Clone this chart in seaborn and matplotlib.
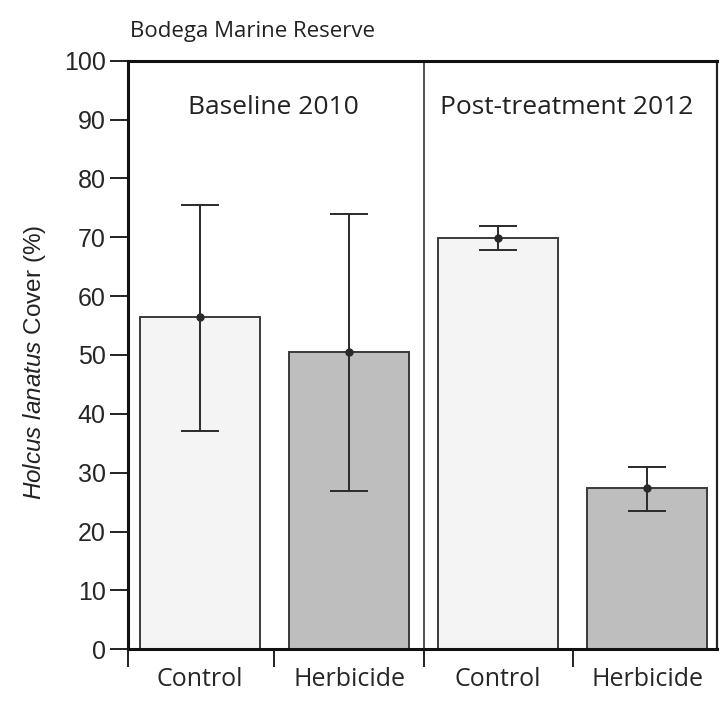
import matplotlib
matplotlib.use("Agg")
import matplotlib.pyplot as plt
import seaborn as sns
import pandas as pd

# ---------------------------------------------------------------------------
# DATA
# ---------------------------------------------------------------------------
groups = ["2010 Control", "2010 Herbicide", "2012 Control", "2012 Herbicide"]
tick_labels = ["Control", "Herbicide", "Control", "Herbicide"]
treatments = ["Control", "Herbicide", "Control", "Herbicide"]
cover_mean = [56.5, 50.5, 69.9, 27.4]
err_low = [37.1, 26.9, 67.8, 23.5]
err_high = [75.5, 74.0, 71.9, 31.0]
period_labels = ["Baseline 2010", "Post-treatment 2012"]

df = pd.DataFrame({"group": groups, "treatment": treatments, "cover": cover_mean})

sns.set_theme(style="white")
plt.rcParams["font.family"] = ["Liberation Sans", "DejaVu Sans"]
plt.rcParams["mathtext.fontset"] = "custom"
plt.rcParams["mathtext.it"] = "Liberation Sans:italic"
plt.rcParams["mathtext.rm"] = "Liberation Sans"

fig = plt.figure(figsize=(7.2, 7.01), dpi=100)
ax = fig.add_axes([0.1774, 0.0738, 0.8185, 0.8396])

sns.barplot(data=df, x="group", y="cover", hue="treatment",
            palette={"Control": "#f4f4f4", "Herbicide": "#bebebe"},
            dodge=False, width=0.8, edgecolor="#3a3a3a", linewidth=1.4,
            errorbar=None, legend=False, ax=ax)

# error bars with mean dot
xs = list(range(len(groups)))
lower = [m - lo for m, lo in zip(cover_mean, err_low)]
upper = [hi - m for m, hi in zip(cover_mean, err_high)]
ax.errorbar(xs, cover_mean, yerr=[lower, upper], fmt="o", color="#2a2a2a",
            markersize=5, elinewidth=1.4, capsize=13.7, capthick=1.4, zorder=5)

# divider between periods
ax.axvline(1.5, color="#333333", lw=1.2, zorder=1)

ax.set_xlim(-0.485, 3.47)
ax.set_ylim(0, 100)
ax.set_yticks(range(0, 101, 10))
ax.tick_params(axis="y", direction="out", length=13, width=1.4, labelsize=18,
               left=True, pad=3, color="#222222")
ax.set_xticks(xs)
ax.set_xticklabels(tick_labels, fontsize=18, family=["Open Sans", "DejaVu Sans"])
ax.tick_params(axis="x", which="major", length=0, pad=13)
ax.set_xticks([-0.485, 0.5, 1.5, 2.5], minor=True)
ax.tick_params(axis="x", which="minor", direction="out", length=13, width=1.4,
               bottom=True, color="#222222")
ax.set_xlabel("")
ax.set_ylabel("")

for side in ["left", "top", "bottom"]:
    ax.spines[side].set_linewidth(2.2)
    ax.spines[side].set_color("#111111")
ax.spines["right"].set_linewidth(1.6)
ax.spines["right"].set_color("#222222")

ax.text(0.49, 92, period_labels[0], ha="center", va="center", fontsize=19,
        family=["Open Sans", "DejaVu Sans"], color="#222222")
ax.text(2.46, 92, period_labels[1], ha="center", va="center", fontsize=19,
        family=["Open Sans", "DejaVu Sans"], color="#222222")

fig.text(130 / 720, 1 - 32 / 701, "Bodega Marine Reserve", ha="left", va="center",
         fontsize=16, family=["Open Sans", "DejaVu Sans"], color="#222222")
fig.text(35 / 720, 1 - 362 / 701, r"$\it{Holcus\ lanatus}$ Cover (%)", rotation=90,
         ha="center", va="center", fontsize=17.5, color="#222222")

fig.savefig("out.png", dpi=100)
